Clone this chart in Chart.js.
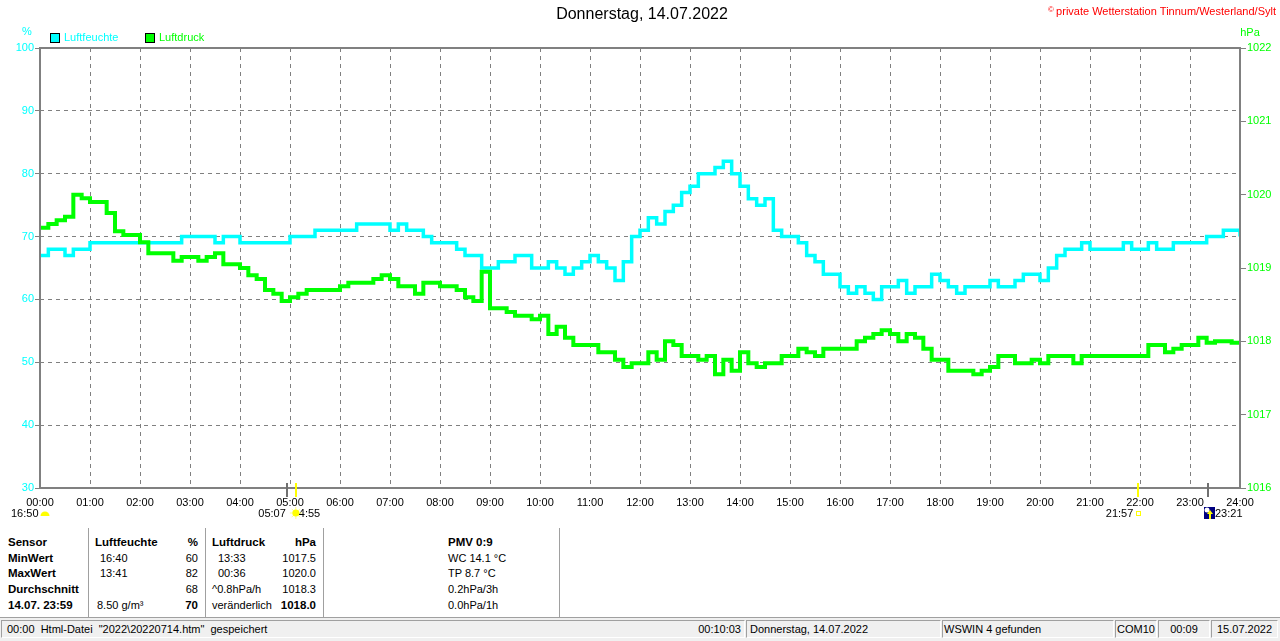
<!DOCTYPE html>
<html>
<head>
<meta charset="utf-8">
<script src="https://cdn.jsdelivr.net/npm/chart.js@4.4.1/dist/chart.umd.min.js"></script>
<style>
body { margin: 0; background: #fff; font-family: "Liberation Sans", Arial, sans-serif; font-size: 11px; width: 1280px; height: 641px; overflow: hidden; position: relative; }
#wrap { position: absolute; left: 0; top: 0; width: 1280px; height: 528px; }
.t { position: absolute; white-space: nowrap; line-height: 14px; color: #000; }
.b { font-weight: bold; font-size: 11.5px; }
.sep { position: absolute; top: 528px; height: 89px; width: 1px; background: #a0a0a0; }
#hline { position: absolute; left: 0; top: 617px; width: 1280px; height: 1px; background: #a0a0a0; }
#status { position: absolute; left: 0; top: 618px; width: 1280px; height: 23px; background: #f0f0f0; }
.p { position: absolute; top: 2px; height: 18px; box-sizing: border-box; border: 1px solid; border-color: #a0a0a0 #ffffff #ffffff #a0a0a0; line-height: 16px; white-space: nowrap; overflow: hidden; }
</style>
</head>
<body>
<div id="wrap"><canvas id="wetterChart" width="1280" height="528"></canvas></div>

<div class="t b" style="left:8px;top:535px">Sensor</div>
<div class="t b" style="left:8px;top:551px">MinWert</div>
<div class="t b" style="left:8px;top:566px">MaxWert</div>
<div class="t b" style="left:8px;top:582px">Durchschnitt</div>
<div class="t b" style="left:8px;top:598px">14.07. 23:59</div>
<div class="sep" style="left:88px"></div>

<div class="t b" style="left:95px;top:535px">Luftfeuchte</div>
<div class="t" style="left:100px;top:551px">16:40</div>
<div class="t" style="left:100px;top:566px">13:41</div>
<div class="t" style="left:97px;top:598px">8.50 g/m³</div>
<div class="t b" style="right:1082px;top:535px">%</div>
<div class="t" style="right:1082px;top:551px">60</div>
<div class="t" style="right:1082px;top:566px">82</div>
<div class="t" style="right:1082px;top:582px">68</div>
<div class="t b" style="right:1082px;top:598px">70</div>
<div class="sep" style="left:205px"></div>

<div class="t b" style="left:212px;top:535px">Luftdruck</div>
<div class="t" style="left:218px;top:551px">13:33</div>
<div class="t" style="left:218px;top:566px">00:36</div>
<div class="t" style="left:212px;top:582px">^0.8hPa/h</div>
<div class="t" style="left:212px;top:598px">veränderlich</div>
<div class="t b" style="right:964px;top:535px">hPa</div>
<div class="t" style="right:964px;top:551px">1017.5</div>
<div class="t" style="right:964px;top:566px">1020.0</div>
<div class="t" style="right:964px;top:582px">1018.3</div>
<div class="t b" style="right:964px;top:598px">1018.0</div>
<div class="sep" style="left:323px"></div>

<div class="t b" style="left:448px;top:535px">PMV 0:9</div>
<div class="t" style="left:448px;top:551px">WC 14.1 °C</div>
<div class="t" style="left:448px;top:566px">TP 8.7 °C</div>
<div class="t" style="left:448px;top:582px">0.2hPa/3h</div>
<div class="t" style="left:448px;top:598px">0.0hPa/1h</div>
<div class="sep" style="left:559px"></div>

<div id="hline"></div>
<div id="status">
  <div class="p" style="left:1px;width:744px;padding-left:5px">00:00&nbsp; Html-Datei&nbsp; "2022\20220714.htm"&nbsp; gespeichert<span style="position:absolute;right:3px">00:10:03</span></div>
  <div class="p" style="left:746px;width:195px;padding-left:3px">Donnerstag, 14.07.2022</div>
  <div class="p" style="left:942px;width:172px;padding-left:1px">WSWIN 4 gefunden</div>
  <div class="p" style="left:1115px;width:42px;padding-left:1px">COM10</div>
  <div class="p" style="left:1158px;width:52px;text-align:center">00:09</div>
  <div class="p" style="left:1211px;width:67px;text-align:center">15.07.2022</div>
</div>

<script>
// Werte alle 10 Minuten, 00:00 bis 24:00
const luftfeuchte = [
  67, 68, 68, 67, 68, 68,
  69, 69, 69, 69, 69, 69,
  69, 69, 69, 69, 69, 70,
  70, 70, 70, 69, 70, 70,
  69, 69, 69, 69, 69, 69,
  70, 70, 70, 71, 71, 71,
  71, 71, 72, 72, 72, 72,
  71, 72, 71, 71, 70, 69,
  69, 69, 68, 67, 67, 65,
  65, 66, 66, 67, 67, 65,
  65, 66, 65, 64, 65, 66,
  67, 66, 65, 63, 66, 70,
  71, 73, 72, 74, 75, 77,
  78, 80, 80, 81, 82, 80,
  78, 76, 75, 76, 71, 70,
  70, 69, 67, 66, 64, 64,
  62, 61, 62, 61, 60, 62,
  62, 63, 61, 62, 62, 64,
  63, 62, 61, 62, 62, 62,
  63, 62, 62, 63, 64, 64,
  63, 65, 67, 68, 68, 69,
  68, 68, 68, 68, 69, 68,
  68, 69, 68, 68, 69, 69,
  69, 69, 70, 70, 71, 71,
  70
];

const luftdruck = [
  1019.55, 1019.6, 1019.65, 1019.7, 1020.0, 1019.95,
  1019.9, 1019.9, 1019.75, 1019.5, 1019.45, 1019.45,
  1019.35, 1019.2, 1019.2, 1019.2, 1019.1, 1019.15,
  1019.15, 1019.1, 1019.15, 1019.2, 1019.05, 1019.05,
  1019.0, 1018.9, 1018.85, 1018.7, 1018.65, 1018.55,
  1018.6, 1018.65, 1018.7, 1018.7, 1018.7, 1018.7,
  1018.75, 1018.8, 1018.8, 1018.8, 1018.85, 1018.9,
  1018.85, 1018.75, 1018.75, 1018.65, 1018.8, 1018.8,
  1018.75, 1018.75, 1018.7, 1018.6, 1018.55, 1018.95,
  1018.45, 1018.45, 1018.4, 1018.35, 1018.35, 1018.3,
  1018.35, 1018.1, 1018.2, 1018.05, 1017.95, 1017.95,
  1017.95, 1017.85, 1017.85, 1017.75, 1017.65, 1017.7,
  1017.7, 1017.85, 1017.75, 1018.0, 1017.95, 1017.8,
  1017.8, 1017.75, 1017.8, 1017.55, 1017.75, 1017.6,
  1017.85, 1017.7, 1017.65, 1017.7, 1017.7, 1017.8,
  1017.8, 1017.9, 1017.85, 1017.8, 1017.9, 1017.9,
  1017.9, 1017.9, 1018.0, 1018.05, 1018.1, 1018.15,
  1018.1, 1018.0, 1018.1, 1018.05, 1017.9, 1017.75,
  1017.75, 1017.6, 1017.6, 1017.6, 1017.55, 1017.6,
  1017.65, 1017.8, 1017.8, 1017.7, 1017.7, 1017.75,
  1017.7, 1017.8, 1017.8, 1017.8, 1017.7, 1017.8,
  1017.8, 1017.8, 1017.8, 1017.8, 1017.8, 1017.8,
  1017.8, 1017.95, 1017.95, 1017.85, 1017.9, 1017.95,
  1017.95, 1018.05, 1017.98, 1018.0, 1018.0, 1017.98,
  1018.0
];

const stundenLabels = [
  '00:00', '01:00', '02:00', '03:00', '04:00', '05:00', '06:00', '07:00', '08:00',
  '09:00', '10:00', '11:00', '12:00', '13:00', '14:00', '15:00', '16:00', '17:00',
  '18:00', '19:00', '20:00', '21:00', '22:00', '23:00', '24:00'
];

// Sonne / Mond auf und unter (Minuten seit 00:00)
const markerZeiten = [296, 307, 1318, 1401];
const markerFarben = ['#707070', '#ffff00', '#ffff00', '#707070'];

const minuten = luftfeuchte.map((_, i) => i * 10);

const farbeFeuchte = '#00ffff';
const farbeDruck = '#00ff00';
const grau = '#808080';

function drawSun(ctx, x, y) {
  ctx.strokeStyle = '#ffff80';
  ctx.lineWidth = 1;
  for (let k = 0; k < 8; k++) {
    const w = k * Math.PI / 4;
    ctx.beginPath();
    ctx.moveTo(x + Math.cos(w) * 3, y + Math.sin(w) * 3);
    ctx.lineTo(x + Math.cos(w) * 6, y + Math.sin(w) * 6);
    ctx.stroke();
  }
  ctx.fillStyle = '#ffff00';
  ctx.beginPath();
  ctx.arc(x, y, 3.5, 0, Math.PI * 2);
  ctx.fill();
}

const rahmenPlugin = {
  id: 'rahmen',
  afterDraw(chart) {
    const { ctx, chartArea: a, scales } = chart;
    ctx.save();

    // Rahmen
    ctx.strokeStyle = grau;
    ctx.lineWidth = 2;
    ctx.strokeRect(a.left, a.top, a.right - a.left, a.bottom - a.top);

    // Titel
    ctx.textBaseline = 'middle';
    ctx.fillStyle = '#000';
    ctx.font = '16px "Liberation Sans", Arial, sans-serif';
    ctx.textAlign = 'center';
    ctx.fillText('Donnerstag, 14.07.2022', 642, 15);

    ctx.fillStyle = '#ff0000';
    ctx.font = '11px "Liberation Sans", Arial, sans-serif';
    ctx.textAlign = 'right';
    ctx.fillText('private Wetterstation Tinnum/Westerland/Sylt', 1276, 12);
    ctx.font = '8px "Liberation Sans", Arial, sans-serif';
    ctx.fillText('©', 1054, 10);

    // Einheiten
    ctx.font = '11px "Liberation Sans", Arial, sans-serif';
    ctx.textAlign = 'center';
    ctx.fillStyle = farbeFeuchte;
    ctx.fillText('%', 27, 32);
    ctx.fillStyle = farbeDruck;
    ctx.fillText('hPa', 1250, 33);

    // Legende
    ctx.textAlign = 'left';
    ctx.lineWidth = 1;
    ctx.strokeStyle = '#000';
    ctx.fillStyle = farbeFeuchte;
    ctx.fillRect(50.5, 33.5, 9, 9);
    ctx.strokeRect(50.5, 33.5, 9, 9);
    ctx.fillText('Luftfeuchte', 64, 38);
    ctx.fillStyle = farbeDruck;
    ctx.fillRect(145.5, 33.5, 9, 9);
    ctx.strokeRect(145.5, 33.5, 9, 9);
    ctx.fillText('Luftdruck', 159, 38);

    // Marker auf der Zeitachse
    const xs = markerZeiten.map(m => scales.x.getPixelForValue(m));
    ctx.lineWidth = 2;
    xs.forEach((x, i) => {
      ctx.strokeStyle = markerFarben[i];
      ctx.beginPath();
      ctx.moveTo(Math.round(x), a.bottom - 5);
      ctx.lineTo(Math.round(x), a.bottom + 9);
      ctx.stroke();
    });

    ctx.fillStyle = '#000';
    ctx.textAlign = 'left';
    ctx.fillText('16:50', 11, 514);
    ctx.fillStyle = '#ffff00';
    ctx.beginPath();
    ctx.arc(45, 516, 4.5, Math.PI, 0);
    ctx.fill();

    ctx.fillStyle = '#000';
    ctx.textAlign = 'right';
    ctx.fillText('05:07', xs[1] - 10, 514);
    ctx.textAlign = 'left';
    ctx.fillText('4:55', xs[1] + 3, 514);
    drawSun(ctx, xs[1], 513);

    ctx.fillStyle = '#000';
    ctx.textAlign = 'right';
    ctx.fillText('21:57', xs[2] - 5, 514);
    ctx.strokeStyle = '#ffff00';
    ctx.lineWidth = 1;
    ctx.strokeRect(Math.round(xs[2]) - 1.5, 511.5, 4, 4);

    ctx.fillStyle = '#000080';
    ctx.fillRect(Math.round(xs[3]) - 4, 507, 11, 12);
    ctx.fillStyle = '#ffffff';
    ctx.beginPath();
    ctx.arc(Math.round(xs[3]) - 1, 510, 2.5, 0, Math.PI * 2);
    ctx.fill();
    ctx.fillStyle = '#ffff00';
    ctx.fillRect(Math.round(xs[3]) + 1, 512, 2, 7);
    ctx.beginPath();
    ctx.moveTo(Math.round(xs[3]) - 1, 514);
    ctx.lineTo(Math.round(xs[3]) + 2, 510);
    ctx.lineTo(Math.round(xs[3]) + 5, 514);
    ctx.fill();
    ctx.fillStyle = '#000';
    ctx.textAlign = 'left';
    ctx.fillText('23:21', Math.round(xs[3]) + 7, 514);

    ctx.restore();
  }
};

Chart.defaults.font.family = '"Liberation Sans", Arial, sans-serif';
Chart.defaults.font.size = 11;

const canvas = document.getElementById('wetterChart');

const wetterChart = new Chart(canvas, {
  type: 'line',
  data: {
    datasets: [{
      label: 'Luftdruck',
      data: luftdruck.map((v, i) => ({ x: minuten[i], y: v })),
      yAxisID: 'yDruck',
      borderColor: farbeDruck,
      borderWidth: 4,
      pointRadius: 0,
      stepped: true,
      fill: false
    }, {
      label: 'Luftfeuchte',
      data: luftfeuchte.map((v, i) => ({ x: minuten[i], y: v })),
      yAxisID: 'yFeuchte',
      borderColor: farbeFeuchte,
      borderWidth: 3.5,
      pointRadius: 0,
      stepped: true,
      fill: false
    }]
  },
  options: {
    responsive: false,
    animation: false,
    devicePixelRatio: 1,
    events: [],
    layout: { padding: { top: 48, left: 0, right: 0, bottom: 0 } },
    plugins: {
      legend: { display: false },
      tooltip: { enabled: false },
      title: { display: false }
    },
    scales: {
      x: {
        type: 'linear',
        min: 0,
        max: 1440,
        afterFit: s => { s.height = 40; },
        ticks: {
          stepSize: 60,
          autoSkip: false,
          maxRotation: 0,
          color: '#000',
          padding: 8,
          callback: (v, i) => stundenLabels[i]
        },
        grid: { color: grau, drawTicks: false },
        border: { display: false, dash: [4, 4] }
      },
      yFeuchte: {
        position: 'left',
        min: 30,
        max: 100,
        afterFit: s => { s.width = 40; },
        ticks: { stepSize: 10, color: farbeFeuchte, padding: 1, callback: v => String(v) },
        grid: { color: grau, tickLength: 5, tickColor: grau },
        border: { display: false, dash: [4, 4] }
      },
      yDruck: {
        position: 'right',
        min: 1016,
        max: 1022,
        afterFit: s => { s.width = 40; },
        ticks: { stepSize: 1, color: farbeDruck, padding: 1, callback: v => String(v) },
        grid: { drawOnChartArea: false, tickLength: 6, tickColor: grau },
        border: { display: false }
      }
    }
  },
  plugins: [rahmenPlugin]
});
</script>
</body>
</html>
